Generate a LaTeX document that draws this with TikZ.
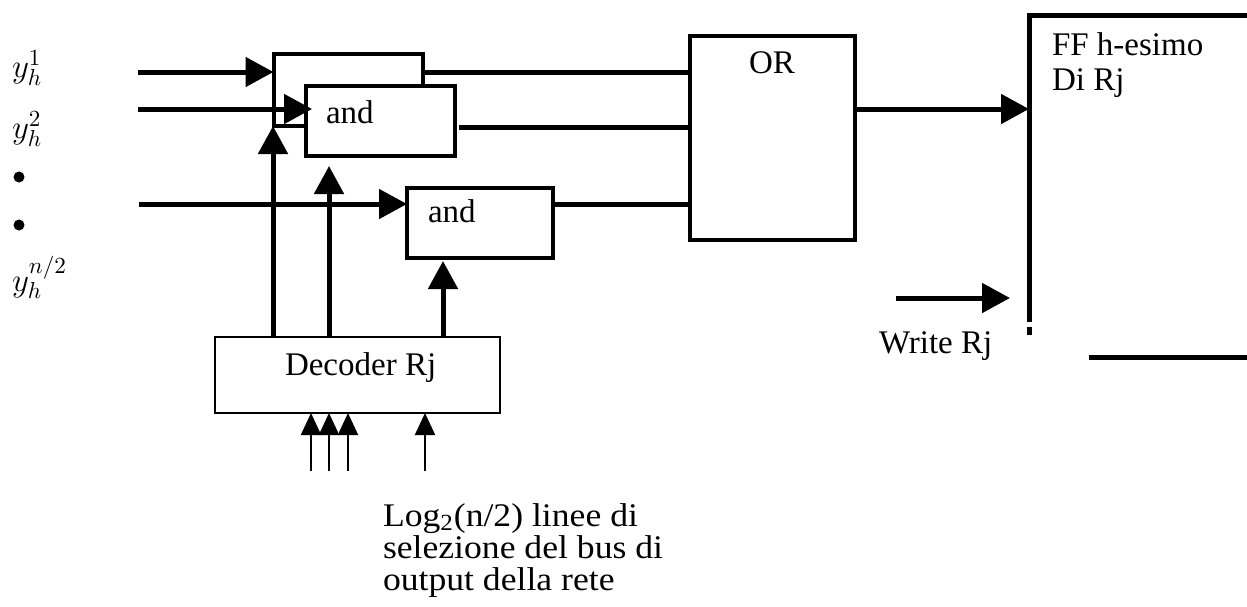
\RequirePackage{fix-cm}
\documentclass[tikz,border=0pt]{standalone}
\usepackage{fontspec}
\setmainfont{Liberation Serif}
\newfontfamily\notefont[FakeStretch=1.08]{Liberation Serif}
\usetikzlibrary{arrows.meta}

\begin{document}
\begin{tikzpicture}[x=0.5pt,y=-0.5pt,
  every node/.style={font=\fontsize{16.5}{19}\selectfont, inner sep=0pt, outer sep=0pt},
  gatebox/.style={draw, line width=2pt, fill=white},
  decbox/.style={draw, line width=1.1pt, fill=white},
  bus/.style={line width=2.5pt},
  busarrow/.style={line width=2.5pt, -{Triangle[length=14pt,width=14.5pt]}},
  selarrow/.style={line width=1pt, -{Triangle[length=11pt,width=10pt]}},
  lbl/.style={anchor=base west}
]
\useasboundingbox (0,0) rectangle (1247,606);

% gates
\node[gatebox, minimum width=74.5pt, minimum height=36pt] (and1) at (348,90) {};
\node[gatebox, minimum width=74.5pt, minimum height=35pt] (and2) at (380.5,121) {};
\node[gatebox, minimum width=73pt, minimum height=35pt] (and3) at (480,223) {};
\node[gatebox, minimum width=82.5pt, minimum height=102pt] (or) at (772.5,138) {};
\node[decbox, minimum width=142.5pt, minimum height=38pt] (dec) at (357.5,375) {};

% gate captions
\node[lbl] (t2) at (326,123) {and};
\node[lbl] (t3) at (428,222) {and};
\node[anchor=base] (tor) at (772,73) {OR};
\node[lbl] (tdec) at (285,375) {Decoder Rj};

% flip-flop outline
\coordinate (ffTL) at (1029,15);
\coordinate (ffBL) at (1029,322);
\coordinate (ffTR) at (1247,15);
\draw[bus] (ffBL) -- (ffTL) -- (ffTR);
\coordinate (ffG1) at (1029,327);
\coordinate (ffG2) at (1029,335);
\draw[bus] (ffG1) -- (ffG2);
\coordinate (ffB1) at (1089,357);
\coordinate (ffB2) at (1247,357);
\draw[bus] (ffB1) -- (ffB2);
\node[lbl] (tff1) at (1052,55) {FF h-esimo};
\node[lbl] (tff2) at (1052,90) {Di Rj};

% input lines
\coordinate (i1) at (138,72);
\coordinate (i2) at (138,109);
\coordinate (i3) at (139,204);
\draw[busarrow] (i1) -- (i1 -| and1.west);
\draw[busarrow] (i2) -- ([xshift=3pt]i2 -| and2.west);
\draw[busarrow] (i3) -- (i3 -| and3.west);

% gate outputs into OR
\coordinate (o2) at (0,127);
\draw[bus] (i1 -| and1.east) -- (i1 -| or.west);
\draw[bus] ([xshift=2pt]o2 -| and2.east) -- (o2 -| or.west);
\draw[bus] (i3 -| and3.east) -- (i3 -| or.west);

% OR output into the flip-flop
\draw[busarrow] (i2 -| or.east) -- (i2 -| ffTL);

% write enable
\coordinate (w0) at (896,298);
\coordinate (w1) at (1010,298);
\draw[busarrow] (w0) -- (w1);
\node[lbl] (twr) at (879,353) {Write Rj};

% decoder enables
\coordinate (c1) at (273,0);
\coordinate (c2) at (329,0);
\coordinate (c3) at (443,0);
\draw[busarrow] (c1 |- dec.north) -- (c1 |- and1.south);
\draw[busarrow] (c2 |- dec.north) -- ([yshift=-5pt]c2 |- and2.south);
\draw[busarrow] (c3 |- dec.north) -- ([yshift=-1.5pt]c3 |- and3.south);

% selection lines
\foreach \n/\x in {s1/311, s2/329, s3/348, s4/425} {
  \coordinate (\n) at (\x,471);
  \draw[selarrow] (\n) -- (\n |- dec.south);
}

% input labels
\node[lbl] (y1) at (12,77) {$y_h^1$};
\node[lbl] (y2) at (12,138) {$y_h^2$};
\fill (19,177) circle (2.75pt);
\fill (19,225) circle (2.75pt);
\node[lbl] (yn) at (12,291) {$y_h^{n/2}$};

% note under the decoder (base anchor sits on the last line)
\node[lbl, align=left, font=\notefont\fontsize{16.5}{16}\selectfont] (note) at (383,590)
  {Log\textsubscript{2}(n/2) linee di\\selezione del bus di\\output della rete};
\end{tikzpicture}
\end{document}
